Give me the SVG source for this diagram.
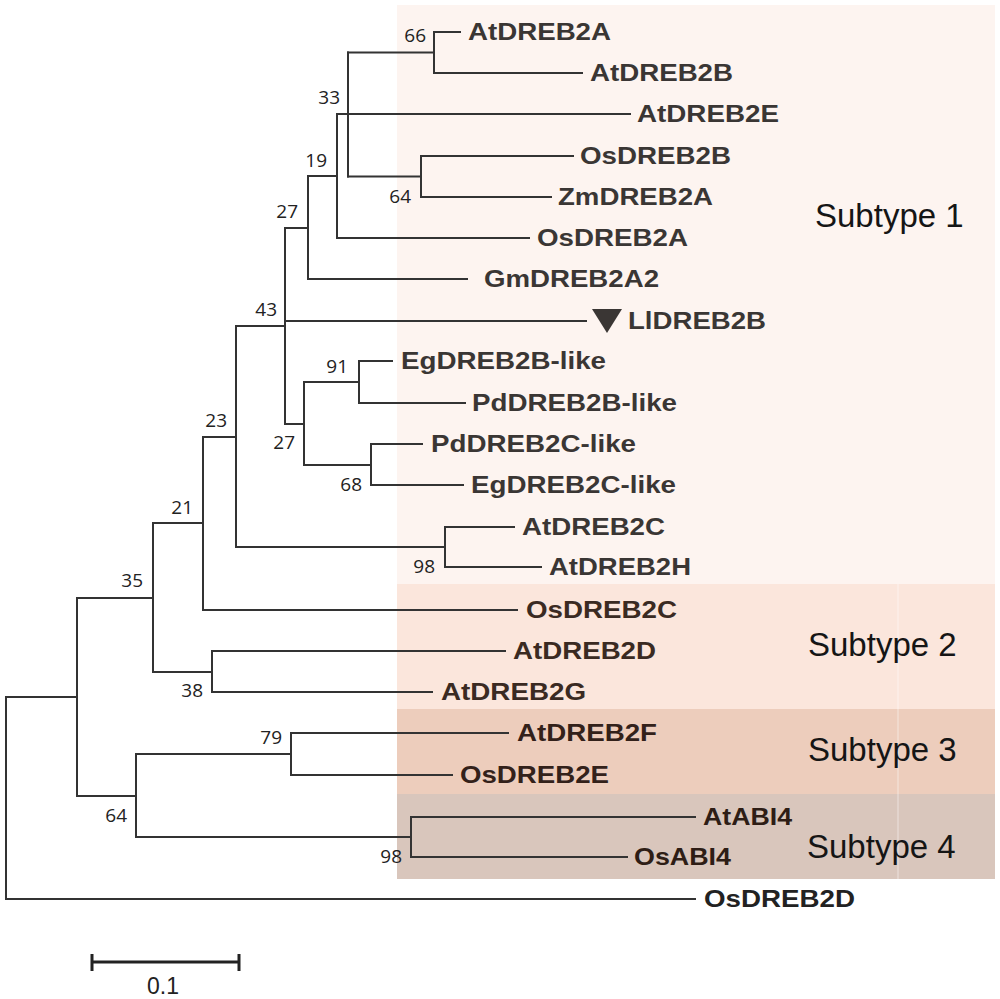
<svg xmlns="http://www.w3.org/2000/svg" width="1000" height="999" viewBox="0 0 1000 999">
<style>
.leaf{font-family:"Liberation Sans",Arial,sans-serif;font-weight:bold;font-size:24px;fill:#3a3634}
.s2{fill:#3a2a22}.s3{fill:#33211a}.s4{fill:#2e1d15}
.bs{font-family:"Open Sans","Liberation Sans",sans-serif;font-size:19px;fill:#222;text-anchor:end}
.sub{font-family:"Liberation Sans",Arial,sans-serif;font-size:33px;fill:#151515}
.tree{fill:none;stroke:#333;stroke-width:2;stroke-linecap:square}
</style>
<rect x="0" y="0" width="1000" height="999" fill="#fff"/>
<g id="bands">
<rect x="397" y="5" width="598" height="579" fill="#fdf4f0"/>
<rect x="397" y="584" width="598" height="125" fill="#fbe6dc"/>
<rect x="397" y="709" width="598" height="85" fill="#edcdbc"/>
<rect x="397" y="794" width="598" height="85" fill="#d9c6bc"/>
<line x1="898" y1="584" x2="898" y2="879" stroke="#fff" stroke-opacity="0.35" stroke-width="1.5"/>
</g>
<g id="connectors" class="tree">
<path d="M434,32H460 M434,73H582 M434,32V73 M348,52.5H434"/>
<path d="M421,156H573 M421,197H551 M421,156V197 M348,176.5H421"/>
<path d="M348,52.5V176.5 M337,114H630"/>
<path d="M337,114V238 M337,238H529 M308,176H337"/>
<path d="M308,176V279 M308,279H467 M285,228H308"/>
<path d="M285,228V424 M285,321H586 M236,326H285"/>
<path d="M359,361H392 M359,403H465 M359,361V403 M304,382H359"/>
<path d="M371,444H422 M371,485H463 M371,444V485 M304,465H371"/>
<path d="M304,382V465 M285,424H304"/>
<path d="M445,527H514 M445,567H541 M445,527V567 M236,547H445"/>
<path d="M236,326V547 M203,437H236"/>
<path d="M203,437V610 M203,610H517 M153,523H203"/>
<path d="M212,651H505 M212,692H432 M212,651V692 M153,672H212"/>
<path d="M153,523V672 M77,598H153"/>
<path d="M291,733H508 M291,775H452 M291,733V775 M136,754H291"/>
<path d="M411,817H695 M411,857H627 M411,817V857 M136,837H411"/>
<path d="M136,754V837 M77,796H136"/>
<path d="M77,598V796 M6,697H77"/>
<path d="M6,697V899 M6,899H695"/>
</g>
<g id="leaf-AtDREB2A"><text class="leaf" x="468" y="40" textLength="143" lengthAdjust="spacingAndGlyphs">AtDREB2A</text></g>
<g id="leaf-AtDREB2B"><text class="leaf" x="590" y="81" textLength="143" lengthAdjust="spacingAndGlyphs">AtDREB2B</text></g>
<g id="leaf-AtDREB2E"><text class="leaf" x="637" y="122" textLength="142" lengthAdjust="spacingAndGlyphs">AtDREB2E</text></g>
<g id="leaf-OsDREB2B"><text class="leaf" x="580" y="164" textLength="151" lengthAdjust="spacingAndGlyphs">OsDREB2B</text></g>
<g id="leaf-ZmDREB2A"><text class="leaf" x="558" y="205" textLength="155" lengthAdjust="spacingAndGlyphs">ZmDREB2A</text></g>
<g id="leaf-OsDREB2A"><text class="leaf" x="537" y="246" textLength="151" lengthAdjust="spacingAndGlyphs">OsDREB2A</text></g>
<g id="leaf-GmDREB2A2"><text class="leaf" x="484" y="287" textLength="175" lengthAdjust="spacingAndGlyphs">GmDREB2A2</text></g>
<g id="leaf-LlDREB2B"><polygon points="592,309 622,309 607,333" fill="#3a3634"/><text class="leaf" x="628" y="329" textLength="138" lengthAdjust="spacingAndGlyphs">LlDREB2B</text></g>
<g id="leaf-EgDREB2B-like"><text class="leaf" x="401" y="369" textLength="205" lengthAdjust="spacingAndGlyphs">EgDREB2B-like</text></g>
<g id="leaf-PdDREB2B-like"><text class="leaf" x="472" y="411" textLength="205" lengthAdjust="spacingAndGlyphs">PdDREB2B-like</text></g>
<g id="leaf-PdDREB2C-like"><text class="leaf" x="431" y="452" textLength="205" lengthAdjust="spacingAndGlyphs">PdDREB2C-like</text></g>
<g id="leaf-EgDREB2C-like"><text class="leaf" x="471" y="493" textLength="205" lengthAdjust="spacingAndGlyphs">EgDREB2C-like</text></g>
<g id="leaf-AtDREB2C"><text class="leaf" x="522" y="535" textLength="143" lengthAdjust="spacingAndGlyphs">AtDREB2C</text></g>
<g id="leaf-AtDREB2H"><text class="leaf" x="549" y="575" textLength="142" lengthAdjust="spacingAndGlyphs">AtDREB2H</text></g>
<g id="leaf-OsDREB2C"><text class="leaf s2" x="526" y="618" textLength="151" lengthAdjust="spacingAndGlyphs">OsDREB2C</text></g>
<g id="leaf-AtDREB2D"><text class="leaf s2" x="513" y="659" textLength="143" lengthAdjust="spacingAndGlyphs">AtDREB2D</text></g>
<g id="leaf-AtDREB2G"><text class="leaf s2" x="441" y="700" textLength="145" lengthAdjust="spacingAndGlyphs">AtDREB2G</text></g>
<g id="leaf-AtDREB2F"><text class="leaf s3" x="517" y="741" textLength="140" lengthAdjust="spacingAndGlyphs">AtDREB2F</text></g>
<g id="leaf-OsDREB2E"><text class="leaf s3" x="460" y="783" textLength="149" lengthAdjust="spacingAndGlyphs">OsDREB2E</text></g>
<g id="leaf-AtABI4"><text class="leaf s4" x="703" y="825" textLength="89" lengthAdjust="spacingAndGlyphs">AtABI4</text></g>
<g id="leaf-OsABI4"><text class="leaf s4" x="634" y="865" textLength="97" lengthAdjust="spacingAndGlyphs">OsABI4</text></g>
<g id="leaf-OsDREB2D"><text class="leaf" x="704" y="907" textLength="151" lengthAdjust="spacingAndGlyphs" style="fill:#222">OsDREB2D</text></g>
<g id="node-66"><text class="bs" x="426" y="42">66</text></g>
<g id="node-33"><text class="bs" x="340" y="104">33</text></g>
<g id="node-19"><text class="bs" x="327" y="167">19</text></g>
<g id="node-64a"><text class="bs" x="411" y="203">64</text></g>
<g id="node-27a"><text class="bs" x="298" y="218">27</text></g>
<g id="node-43"><text class="bs" x="277" y="316">43</text></g>
<g id="node-91"><text class="bs" x="348" y="373">91</text></g>
<g id="node-27b"><text class="bs" x="295" y="449">27</text></g>
<g id="node-68"><text class="bs" x="362" y="491">68</text></g>
<g id="node-23"><text class="bs" x="227" y="427">23</text></g>
<g id="node-98a"><text class="bs" x="435" y="573">98</text></g>
<g id="node-21"><text class="bs" x="193" y="514">21</text></g>
<g id="node-35"><text class="bs" x="143" y="587">35</text></g>
<g id="node-38"><text class="bs" x="203" y="697">38</text></g>
<g id="node-79"><text class="bs" x="282" y="744">79</text></g>
<g id="node-64b"><text class="bs" x="127" y="822">64</text></g>
<g id="node-98b"><text class="bs" x="402" y="863">98</text></g>
<g id="subtypes">
<text class="sub" x="815" y="227">Subtype 1</text>
<text class="sub" x="808" y="656">Subtype 2</text>
<text class="sub" x="808" y="761">Subtype 3</text>
<text class="sub" x="807" y="858">Subtype 4</text>
</g>
<g id="scalebar">
<path d="M92,962H239 M92,954V971 M239,954V971" fill="none" stroke="#222" stroke-width="3"/>
<text x="163" y="994" text-anchor="middle" style="font-family:'Liberation Sans',Arial,sans-serif;font-size:23px;fill:#222">0.1</text>
</g>
</svg>
